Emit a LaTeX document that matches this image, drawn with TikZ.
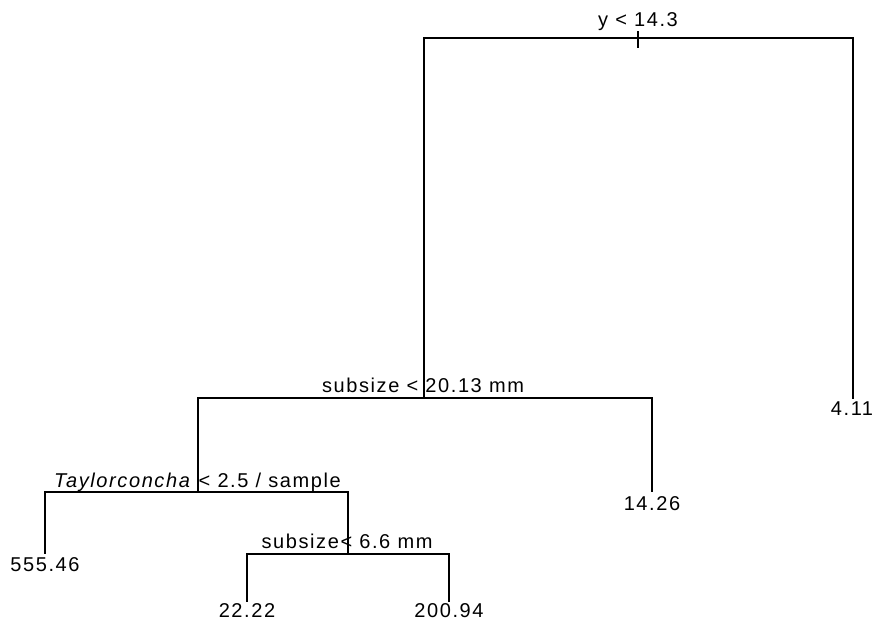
\documentclass[tikz,border=0pt]{standalone}
\usepackage{fontspec}
\setmainfont{Liberation Sans}[LetterSpace=8]
\begin{document}
\begin{tikzpicture}[x=1pt,y=-1pt,
  branch/.style={line width=1.2pt, line cap=rect},
  lbl/.style={anchor=base, inner sep=0pt, font=\fontsize{20}{23}\selectfont}]
\useasboundingbox (0,0) rectangle (875,621);
% split points
\coordinate (r) at (638,38);
\coordinate (rL) at (424,38);
\coordinate (rR) at (853,38);
\coordinate (tickT) at (638,32);
\coordinate (tickB) at (638,47);
\coordinate (s1) at (424,398);
\coordinate (s1L) at (198,398);
\coordinate (s1R) at (652,398);
\coordinate (s2) at (198,492);
\coordinate (s2L) at (45,492);
\coordinate (s2R) at (348,492);
\coordinate (s3) at (348,554);
\coordinate (s3L) at (247,554);
\coordinate (s3R) at (449,554);
\coordinate (l411) at (853,398);
\coordinate (l1426) at (652,491);
\coordinate (l555) at (45,553);
\coordinate (l22) at (247,601);
\coordinate (l200) at (449,601);
% labels
\node[lbl] (t1) at (638,27) {y < 14.3};
\node[lbl] (t2) at (423,392) {subsize < 20.13 mm};
\node[lbl] (t3) at (197.5,487) {\textit{Taylorconcha} < 2.5 / sample};
\node[lbl] (t4) at (347,548) {subsize< 6.6 mm};
\node[lbl] (n411) at (852,415) {4.11};
\node[lbl] (n1426) at (652,510) {14.26};
\node[lbl] (n555) at (45,571) {555.46};
\node[lbl] (n22) at (247,617) {22.22};
\node[lbl] (n200) at (449,617) {200.94};
% branches
\draw[branch] (tickT) -- (tickB);
\draw[branch] (rL) -- (rR);
\draw[branch] (rL) -- (s1);
\draw[branch] (rR) -- (l411);
\draw[branch] (s1L) -- (s1R);
\draw[branch] (s1R) -- (l1426);
\draw[branch] (s1L) -- (s2);
\draw[branch] (s2L) -- (s2R);
\draw[branch] (s2L) -- (l555);
\draw[branch] (s2R) -- (s3);
\draw[branch] (s3L) -- (s3R);
\draw[branch] (s3L) -- (l22);
\draw[branch] (s3R) -- (l200);
\end{tikzpicture}
\end{document}
